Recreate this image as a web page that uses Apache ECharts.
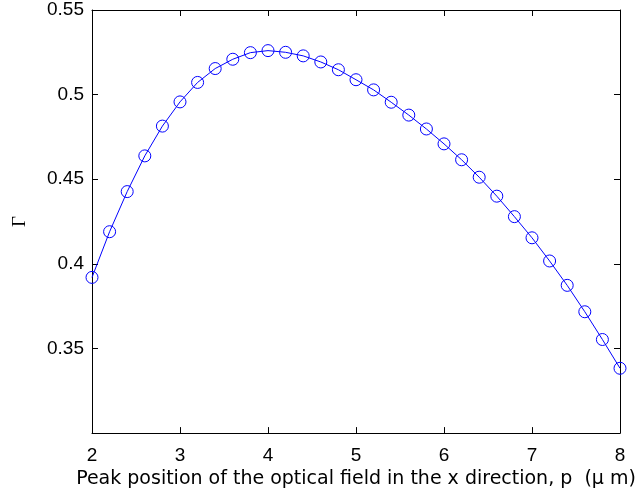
<!DOCTYPE html>
<html><head><meta charset="utf-8">
<script src="https://cdn.jsdelivr.net/npm/echarts@6/dist/echarts.min.js"></script>
<style>html,body{margin:0;padding:0;background:#fff}#c{width:639px;height:494px}</style>
</head><body><div id="c"></div>
<script>
var xValues = [2.0,2.2,2.4,2.6,2.8,3.0,3.2,3.4,3.6,3.8,4.0,4.2,4.4,4.6,4.8,5.0,5.2,5.4,5.6,5.8,6.0,6.2,6.4,6.6,6.8,7.0,7.2,7.4,7.6,7.8,8.0];
var gammaValues = [0.392,0.419,0.4427,0.4638,0.4814,0.4957,0.5072,0.5154,0.5209,0.5248,0.5260,0.5250,0.5229,0.5193,0.5147,0.5088,0.5028,0.4955,0.4879,0.4797,0.4709,0.4615,0.4512,0.4400,0.4279,0.4154,0.4017,0.3873,0.3717,0.3553,0.3383];
var xTicks = [2,3,4,5,6,7,8];
var yTicks = [0.35,0.4,0.45,0.5,0.55];
var xTitle = 'Peak position of the optical field in the x direction, p  (\u03bc m)';
var yTitle = '\u0393';

var data = xValues.map(function(x,i){return [x,gammaValues[i]];});
var font = 'Liberation Sans';
var axisLine = {show:true, lineStyle:{color:'#000', width:1}};
var tick = {show:true, inside:true, length:6, lineStyle:{color:'#000'}};
var chart = echarts.init(document.getElementById('c'), null, {renderer:'canvas'});
chart.setOption({
  animation:false,
  grid:{left:92, right:19, top:10, bottom:59, containLabel:false},
  xAxis:[{
    type:'value', min:2, max:8, interval:1, position:'bottom',
    axisLine:axisLine, axisTick:tick, splitLine:{show:false},
    axisLabel:{color:'#000', fontFamily:font, fontSize:19, margin:13,
      formatter:function(v){return xTicks.indexOf(v)>=0? String(v):'';}},
    name:xTitle, nameLocation:'middle', nameGap:33,
    nameTextStyle:{color:'#000', fontFamily:'DejaVu Sans', fontSize:19}
  },{
    type:'value', min:2, max:8, interval:1, position:'top',
    axisLine:axisLine, axisTick:tick, splitLine:{show:false}, axisLabel:{show:false}
  }],
  yAxis:[{
    type:'value', min:0.3, max:0.55, interval:0.05, position:'left',
    axisLine:axisLine, axisTick:tick, splitLine:{show:false},
    axisLabel:{color:'#000', fontFamily:font, fontSize:19, margin:8,
      formatter:function(v){var r=Math.round(v*100)/100; return yTicks.indexOf(r)>=0? String(r):'';}},
    name:yTitle, nameLocation:'middle', nameGap:62, nameRotate:90,
    nameTextStyle:{color:'#000', fontFamily:'Liberation Serif', fontSize:19}
  },{
    type:'value', min:0.3, max:0.55, interval:0.05, position:'right',
    axisLine:axisLine, axisTick:tick, splitLine:{show:false}, axisLabel:{show:false}
  }],
  series:[{
    type:'line', data:data, xAxisIndex:0, yAxisIndex:0,
    symbol:'circle', symbolSize:12, showSymbol:true,
    lineStyle:{color:'#0000ff', width:1},
    itemStyle:{color:'rgba(0,0,0,0)', borderColor:'#0000ff', borderWidth:1}
  }]
});
</script></body></html>
